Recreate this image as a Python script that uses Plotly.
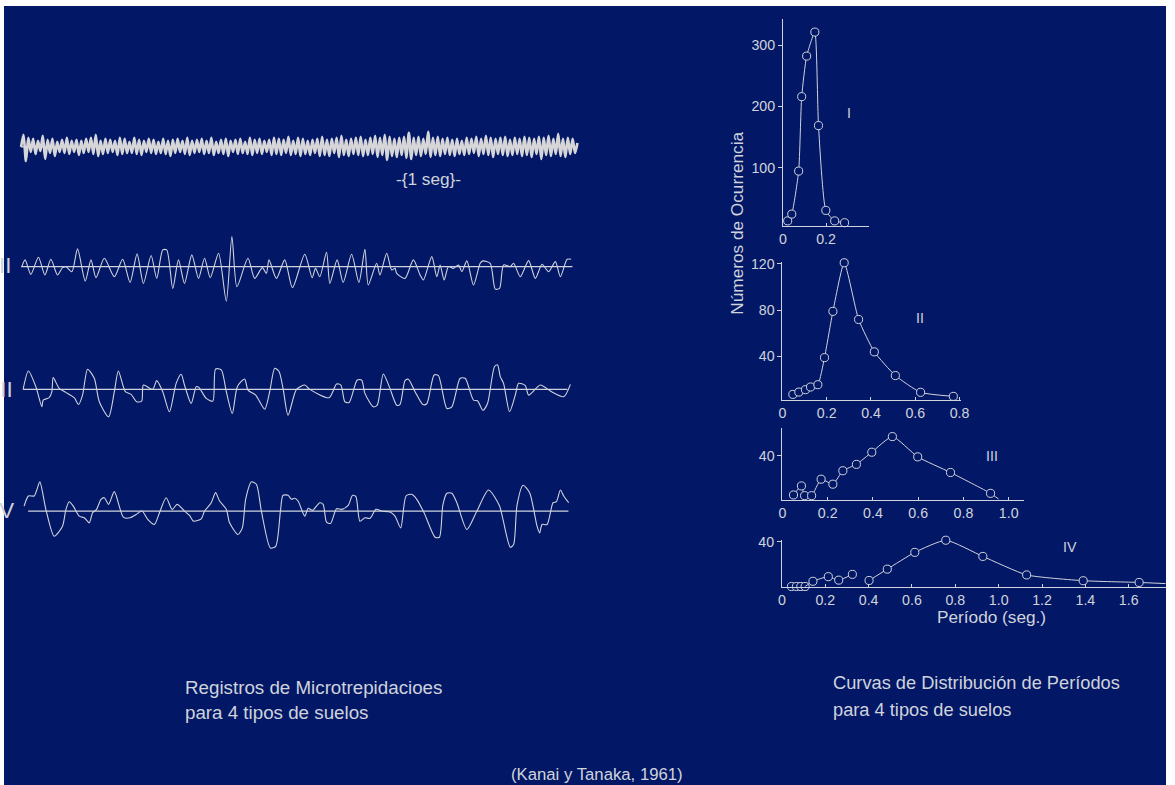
import plotly.graph_objects as go

W, H = 1175, 790
NAVY = '#021866'
INK = '#d0d3dc'
FONT = 'Liberation Sans, Arial, sans-serif'

# The page keeps the browser's default body margin and is scaled to fit the
# window width, so layout positions below are given in window pixels and mapped
# back to figure pixels.
SCALE = 1175 / (1175 + 16)
SHIFT_X = 5
SHIFT_Y = 8


def fx(v):
    return v / SCALE - SHIFT_X


def fy(v):
    return v / SCALE - SHIFT_Y


def fs(size):
    return size / SCALE


# ---------------- microtremor records (position along record, amplitude) -------------
# Record I: dense short-period oscillation, alternating extremes at a regular sampling step
rec1_amp = [0, 12, -14, 9, -5, 8, -7, 6, -4, 11, -12, 7, -6, 8, -9, 5, -5, 7, -6, 9, -7,
            6, -5, 7, -8, 6, -6, 8, -5, 9, -7, 12, -9, 6, -7, 8, -6, 7, -5, 6, -8, 9,
            -7, 8, -6, 5, -6, 9, -7, 7, -8, 6, -5, 8, -6, 7, -7, 5, -6, 8, -7, 6, -9,
            7, -6, 8, -5, 6, -7, 9, -8, 6, -6, 7, -5, 8, -7, 6, -6, 9, -8, 5, -6, 7,
            -7, 8, -9, 6, -5, 7, -7, 8, -6, 5, -7, 9, -8, 7, -6, 8, -7, 6, -5, 7, -8,
            9, -7, 8, -8, 7, -6, 10, -8, 6, -7, 9, -9, 8, -7, 6, -8, 7, -6, 8, -9, 10,
            -8, 7, -9, 8, -6, 9, -10, 11, -8, 7, -9, 8, -7, 9, -8, 10, -9, 7, -8, 9, -7,
            11, -10, 9, -8, 12, -13, 10, -9, 8, -10, 9, -8, 10, -11, 14, -12, 9, -8, 10, -9, 8,
            -7, 15, -10, 9, -8, 10, -9, 8, -7, 9, -8, 7, -9, 8, -7, 6, -8, 9, -7, 8, -6,
            10, -9, 8, -7, 11, -8, 9, -10, 8, -7, 9, -8, 10, -9, 7, -8, 9, -7, 8, -9, 10,
            -8, 9, -10, 8, -7, 10, -12, 9, -8, 11, -9, 8, -7, 13, -9, 8, -10, 9, -7, 8, -6, 4]
rec1_start, rec1_end = 22, 577

rec2_t = [22.7, 26, 31.7, 39.3, 45.7, 51.7, 58.3, 63.3, 66.7, 72.7, 78.3, 86, 91.7, 96.7,
          105, 115, 123.3, 130.7, 137.7, 144, 151.7, 157.3, 163.3, 167.3, 173.3, 179, 185,
          192.3, 199, 205, 210.7, 219, 226.7, 232.3, 237.3, 248.3, 255, 262.7, 266.7, 269.3,
          276.7, 285, 292.7, 305, 312.3, 315.7, 320, 326.7, 330, 337.3, 343.3, 351.7, 359,
          365, 368.3, 376.7, 380, 386.7, 391.7, 395, 396.7, 405, 413.3, 420, 423.3, 431.7,
          436.7, 440, 444, 448.3, 453.3, 458.3, 461.7, 466.7, 473.3, 480, 482.7, 490, 495,
          499.3, 503.3, 510, 513.3, 520, 528.3, 535, 541.7, 548.3, 555, 560, 566.7, 570.7]
rec2_amp = [0, 6.7, -7.7, 9.3, -8.3, 7.3, -8.3, -1, 0, -5, 17.7, -14.3, 6.7, -11,
            8.3, -10, 7.3, -15.7, 12.7, -16.7, 11, -11.7, 16.7, 16.7, -21.7, 6.7, -16.7,
            11.7, -11.7, 8.3, -11, 13.3, -34.3, 30, -20, 8.3, -11.7, -1, -6.7, 6.7,
            -11.7, 6.7, -21, 12.3, -11, -1.7, -10, 14.3, -16.7, 6.7, -15.7, 12.3, -15.7,
            17.3, -18.3, 3.3, -8.3, 13.3, -3.3, -1.7, -6.7, -11.7, 6.7, -8.3, -13.3, 10,
            -10, 1.7, -13.3, 0, -1.7, 1.7, -5, 5.7, -18.3, 3.3, 5.7, 3.3, -22.3,
            -21.7, 1.7, 0, 3.3, -10, 6, -11.7, 2.3, -5, 5, -10, 7.3, 7.3]
rec2_base = (22, 572)

rec3_t = [24, 29.3, 36.7, 42.7, 44, 50, 52.7, 54, 60, 66.7, 75, 79.3, 83.3, 88.3, 95, 100,
          109.3, 115, 119, 126, 131.7, 137.3, 142.3, 144, 153.3, 157.3, 163.3, 170, 176.7,
          181.7, 185, 191.7, 196.7, 199.3, 206.7, 213.3, 216, 221.7, 226.7, 232.7, 237.7,
          245, 248.3, 256, 265, 270, 275, 279.3, 283.3, 288.3, 296.7, 305, 310, 329.3,
          336.7, 341, 345, 349.3, 357.3, 361.7, 365, 373.3, 377.3, 383.3, 389.3, 396.7,
          400, 405, 408.3, 415, 422.7, 426.7, 434, 438.3, 446.7, 451.7, 460, 465, 473.3,
          477.3, 482.7, 487.3, 494.3, 497.3, 500, 503.3, 509.3, 515, 518.3, 525, 528.3,
          540, 550, 563.3, 570]
rec3_amp = [0, 18.3, 2.7, -17.3, -10.7, -8.3, -2.3, 11.7, 1, -3, -8.3, -15, -5.7, 20, 11, -12.3,
            -27.3, -2.3, 18.3, -2.3, -5, -12.3, -11.7, 4.3, 0, 8.7, -2.3, -22.3, 6,
            15, 4.3, -14, 2.7, 2, -9, -11.7, 20.3, 19.3, -2.3, -24, 2.7,
            10.3, -0.7, -5.7, -19.7, -2.3, 21, 17.7, 1, -25.7, 0, 4.3, 0, -8.3,
            5.3, 4.3, -12.3, -13, 9.3, 9.3, -4, -17.3, -15.7, 15.3, 2.7, -15.7,
            -15, 8.7, 10, -2.3, -15, -14.3, 14.3, 13.7, -19, -17.3, 11, 11, -10.7,
            -11.3, -20.7, -14, 22.7, 24.3, 12.7, 6, -22.3, -5.7, 6, 3.7, -5.7,
            4.3, -1.7, -7.3, 5]
rec3_base = (24, 567)

rec4_t = [25, 29.3, 35, 37.3, 40.7, 46.7, 55, 63.3, 66.7, 70, 74, 80, 85, 90, 93.3, 97.3,
          101.7, 105, 109.3, 115, 124, 130.7, 136.7, 142.7, 148.3, 155, 160, 166.7, 172.7,
          177.7, 185, 190, 194, 201.7, 205, 211.7, 216, 220, 226.7, 230, 238.3, 242.7, 246,
          251.7, 256.7, 261.7, 270.7, 276, 280.7, 283.3, 288.3, 291.7, 295, 298.3, 305,
          308.3, 312.7, 320, 323.3, 326.7, 330.7, 336.7, 341.7, 348.3, 352.7, 356, 360, 365,
          370, 376, 381.7, 390, 395, 400.7, 406, 411.7, 416.7, 424, 435, 439.3, 442.7,
          446.7, 451.7, 456.7, 466.7, 476.7, 488.3, 499.3, 502.7, 510, 513.3, 516.7, 522.7,
          529.3, 536.7, 539.3, 541.7, 546.7, 552.7, 556, 560, 563.3, 568.3]
rec4_amp = [5, 15, 15, 20, 29, 1.7, -25, -15, 1.7, 9.3, 5, -5, -6.7, -11.7, -1.7, 1.7,
            11.7, 13.3, 6.7, 19.3, -6, -6.7, -3.3, 0, -8.3, -13.3, -1.7, 13.3, 1.7,
            6.7, 0, -4.3, -10, -7.7, 0, 8.3, 18.3, 10, 1.7, -11.7, -23.3, -16.7, 11.7,
            29, 26.7, 0, -36.7, -35, 0, 15.7, 15.7, 11.7, 12.7, 10, -5,
            2.7, 0.7, 8.3, 6.7, -11, -12.3, 2.3, 1.7, 5.7, 15.7, 14.3, -10, -6.7,
            -7.3, 1.7, 0, -1, -5, -16.7, 15, 16.7, 11.7, -1.7, -26, -26, 5.7,
            17.7, 17.7, 8.3, -18.3, 0, 21, 5, -8.3, -36, -33.3, 5.7, 25.7,
            18.3, -15, -21.7, -13.3, -13.3, 8.3, 9.3, 21, 15, 8.3]
rec4_base = (29, 568)

record_labels = ['II', 'III', 'IV']

# ---------------- period distribution curves ----------------
per_I = [0.022, 0.041, 0.073, 0.087, 0.11, 0.148, 0.165, 0.199, 0.24, 0.286]
cnt_I = [14, 25, 95, 216, 282, 321, 169, 31, 14, 11]

per_II = [0.047, 0.074, 0.104, 0.127, 0.16, 0.19, 0.228, 0.279, 0.344, 0.415, 0.51, 0.624, 0.772]
cnt_II = [7.2, 9.2, 11.3, 13.6, 15.6, 39, 79, 121, 72, 44, 23.5, 9, 5.5]

per_III = [0.049, 0.084, 0.098, 0.129, 0.171, 0.223, 0.267, 0.327, 0.395, 0.486, 0.598, 0.743, 0.92]
cnt_III = [6.1, 13.9, 5.5, 5.5, 19.7, 15.4, 27, 32.5, 43, 56.5, 39, 25.5, 7.5]
tail_III = (0.956, 2.5)

per_IV_a = [0.044, 0.067, 0.087, 0.107]
cnt_IV_a = [1.5, 1.5, 1.5, 1.5]
per_IV_b = [0.143, 0.214, 0.262, 0.325]
cnt_IV_b = [6, 10, 7, 12]
per_IV_c = [0.402, 0.486, 0.613, 0.756, 0.927, 1.129, 1.39, 1.648]
cnt_IV_c = [6.7, 16.5, 31, 41.5, 27.5, 11.5, 6.5, 5]
tail_IV = (1.77, 4)

fig = go.Figure()


def xdom(x0, x1):
    return [max(0.0, fx(x0) / W), min(1.0, fx(x1) / W)]


def ydom(top, bottom):
    return [max(0.0, 1 - fy(bottom) / H), min(1.0, 1 - fy(top) / H)]


hidden = dict(visible=False, showgrid=False, zeroline=False, fixedrange=True)

# --- record axes (1..4), one window pixel per data unit ---
centres = [148, 267, 389, 510]
for i, c in enumerate(centres, start=1):
    fig.update_layout(**{
        f'xaxis{i}': dict(hidden, domain=xdom(10, 1160), range=[10, 1160], anchor=f'y{i}'),
        f'yaxis{i}': dict(hidden, domain=ydom(c - 45, c + 45), range=[-45, 45], anchor=f'x{i}'),
    })

n1 = len(rec1_amp)
step1 = (rec1_end - rec1_start) / (n1 - 1)
rec1_t = [rec1_start + k * step1 for k in range(n1)]

records = [
    (rec1_t, rec1_amp, (rec1_start, rec1_end), 2.7, '#d6d6d8'),
    (rec2_t, rec2_amp, rec2_base, 1.1, INK),
    (rec3_t, rec3_amp, rec3_base, 1.1, INK),
    (rec4_t, rec4_amp, rec4_base, 1.1, INK),
]
for i, (t, a, base, lw, col) in enumerate(records, start=1):
    fig.add_trace(go.Scatter(x=list(base), y=[0, 0], mode='lines', xaxis=f'x{i}', yaxis=f'y{i}',
                             line=dict(color=INK, width=1.2), hoverinfo='skip'))
    fig.add_trace(go.Scatter(x=t, y=a, mode='lines', xaxis=f'x{i}', yaxis=f'y{i}',
                             line=dict(color=col, width=lw, shape='spline', smoothing=0.7),
                             hoverinfo='skip'))

# --- distribution panels (5..8) ---
axis_common = dict(showline=True, linecolor=INK, linewidth=1, showgrid=False, zeroline=False,
                   tickfont=dict(family=FONT, size=fs(14), color=INK), fixedrange=True)
panels = [
    # axis id, x px span, y px span (top, bottom), x range, y range, y ticks, x ticks
    (5, (782, 868), (21, 227), [0, 0.40], [5, 342], [100, 200, 300], [0, 0.2]),
    (6, (781.5, 959.3), (262, 399.3), [0, 0.805], [2.6, 122], [40, 80, 120], [0, 0.2, 0.4, 0.6, 0.8]),
    (7, (781.5, 1022.3), (427.3, 498.7), [0, 1.067], [2, 64], [40], [0, 0.2, 0.4, 0.6, 0.8, 1.0]),
    (8, (781, 1175), (538.4, 585.2), [0, 1.772], [1.3, 42], [40], [0, 0.2, 0.4, 0.6, 0.8, 1.0, 1.2, 1.4, 1.6]),
]
for k, xs, ys, xr, yr, yt, xt in panels:
    xtext = ['0' if v == 0 else f'{v:.1f}' for v in xt]
    fig.update_layout(**{
        f'xaxis{k}': dict(axis_common, domain=xdom(*xs), range=xr, anchor=f'y{k}',
                          tickvals=xt, ticktext=xtext, ticks='inside', ticklen=3, tickcolor=INK),
        f'yaxis{k}': dict(axis_common, domain=ydom(*ys), range=yr, anchor=f'x{k}',
                          tickvals=yt, ticks='outside', ticklen=4, tickcolor=INK),
    })

curve_line = dict(color=INK, width=1, shape='spline', smoothing=0.5)
marker = dict(symbol='circle', size=fs(8), color=NAVY, line=dict(color=INK, width=1))


def add_curve(k, px, cy, tail=None, head=None, with_line=True, with_markers=True):
    if with_line:
        lx, ly = list(px), list(cy)
        if head is not None:
            lx.insert(0, head[0])
            ly.insert(0, head[1])
        if tail is not None:
            lx.append(tail[0])
            ly.append(tail[1])
        fig.add_trace(go.Scatter(x=lx, y=ly, mode='lines', xaxis=f'x{k}', yaxis=f'y{k}',
                                 line=curve_line, cliponaxis=False, hoverinfo='skip'))
    if with_markers:
        fig.add_trace(go.Scatter(x=px, y=cy, mode='markers', xaxis=f'x{k}', yaxis=f'y{k}',
                                 marker=marker, cliponaxis=False, hoverinfo='skip'))


add_curve(5, per_I, cnt_I)
add_curve(6, per_II, cnt_II)
add_curve(7, per_III, cnt_III, tail=tail_III)
add_curve(8, per_IV_a, cnt_IV_a, with_line=False)
add_curve(8, per_IV_b, cnt_IV_b, head=(per_IV_a[-1], cnt_IV_a[-1]))
add_curve(8, per_IV_c, cnt_IV_c, tail=tail_IV)

panel_labels = [(5, 0.308, 189, 'I'), (6, 0.62, 73.6, 'II'), (7, 0.926, 40, 'III'), (8, 1.327, 36, 'IV')]
annotations = []
for k, x, y, txt in panel_labels:
    annotations.append(dict(x=x, y=y, xref=f'x{k}', yref=f'y{k}', text=txt, showarrow=False,
                            xanchor='center', yanchor='middle',
                            font=dict(family=FONT, size=fs(14), color=INK)))


def note(x, y, text, size, anchor='left', angle=0):
    annotations.append(dict(x=fx(x) / W, y=1 - fy(y) / H, xref='paper', yref='paper', text=text,
                            showarrow=False, xanchor=anchor, yanchor='middle', align='left',
                            textangle=angle, font=dict(family=FONT, size=fs(size), color=INK)))


# record labels run off the left edge of the page
for (x, y), txt in zip([(13.5, 266), (15.7, 389), (17, 509)], record_labels):
    note(x, y, txt, 22, 'right')

note(428, 180, '-{1 seg}-', 17, 'center')
note(184, 685, 'Registros de Microtrepidacioes', 18.5)
note(184, 710, 'para 4 tipos de suelos', 18.5)
note(830, 680, 'Curvas de Distribución de Períodos', 18)
note(830, 707, 'para 4 tipos de suelos', 18)
note(597, 772, '(Kanai y Tanaka, 1961)', 16.5, 'center')
note(990, 615, 'Período (seg.)', 17, 'center')
note(736.5, 224, 'Números de Ocurrencia', 17, 'center', -90)

fig.update_layout(
    width=W, height=H,
    margin=dict(l=0, r=0, t=0, b=0),
    paper_bgcolor='white',
    plot_bgcolor='rgba(0,0,0,0)',
    showlegend=False,
    annotations=annotations,
    shapes=[dict(type='rect', xref='paper', yref='paper', x0=0, x1=1, y0=0, y1=1,
                 fillcolor=NAVY, line=dict(width=0), layer='below')],
)

fig.write_html('out.html', config={'displayModeBar': False})
